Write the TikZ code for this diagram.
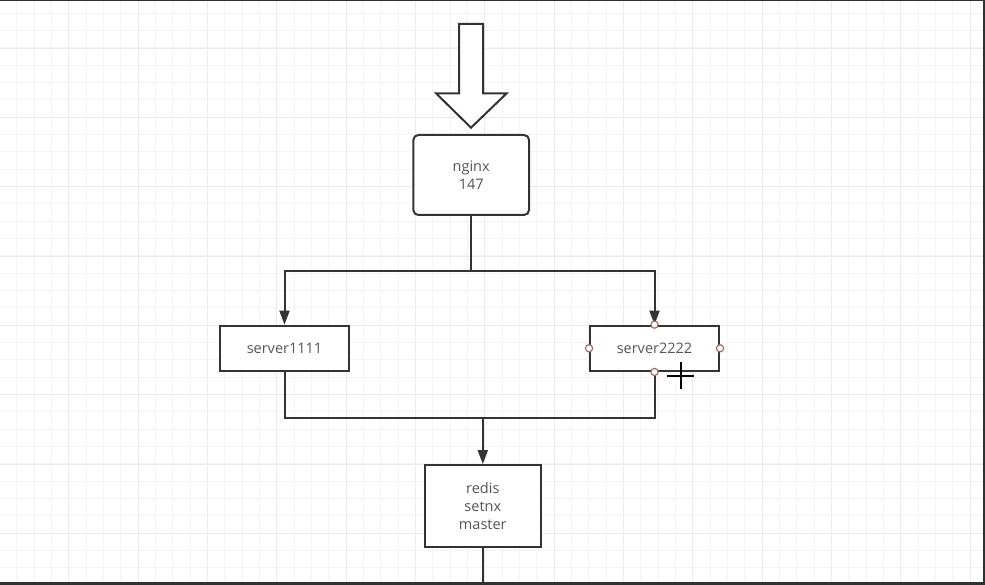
\documentclass[tikz,border=0pt]{standalone}
\usepackage{fontspec}
\setmainfont{Open Sans}
\usetikzlibrary{arrows.meta}
\definecolor{edge}{HTML}{333333}
\definecolor{txt}{HTML}{555555}
\definecolor{minorgrid}{HTML}{F4F4F4}
\definecolor{majorgrid}{HTML}{EAEAEA}
\definecolor{frame}{HTML}{2D3135}
\definecolor{handle}{HTML}{B0685E}
\begin{document}
\begin{tikzpicture}[x=1pt,y=-1pt,
  mg/.style={minorgrid, line width=1pt},
  Mg/.style={majorgrid, line width=1pt},
  box/.style={draw=edge, line width=2pt, fill=white, text=txt,
    font=\fontsize{14.5}{17.7}\selectfont, align=center, inner sep=0pt},
  conn/.style={draw=edge, line width=2pt},
  arr/.style={conn, -{Triangle[length=14pt,width=10pt]}},
  hnd/.style={draw=handle, fill=white, line width=1.2pt},
  cursor/.style={black, line width=2pt}
]
\useasboundingbox (0,0) rectangle (985,585);
\fill[white] (0,0) rectangle (985,585);
% grid
\foreach \k in {0,...,57} \draw[mg] ({-0.6+17.333*\k},0) -- ++(0,585);
\foreach \k in {0,...,34} \draw[mg] (0,{-4+17.333*\k}) -- ++(985,0);
\foreach \k in {0,...,14} \draw[Mg] ({-0.6+69.333*\k},0) -- ++(0,585);
\foreach \k in {1,...,9} \draw[Mg] (0,{-21+69.333*\k}) -- ++(985,0);

% big arrow
\draw[edge, line width=2pt, fill=white, line join=miter]
  (459,24) -- (483,24) -- (483,93.3) -- (506.7,93.3) -- (471,127.7)
  -- (436,93.3) -- (459,93.3) -- cycle;

% nodes
\node[box, rounded corners=5pt, minimum width=115.7pt, minimum height=80pt] (ng) at (471.2,175) {nginx\\147};
\node[box, minimum width=129pt, minimum height=45.3pt] (s1) at (284.5,348.3) {server1111};
\node[box, minimum width=129pt, minimum height=45.3pt] (s2) at (654.5,348.3) {server2222};
\node[box, minimum width=115.7pt, minimum height=81.7pt] (rd) at (482.8,505.9) {redis\\setnx\\master};

% connectors
\coordinate (split) at (471.2,270.7);
\coordinate (join) at (482.8,418.3);
\coordinate (out) at (482.8,590);
\draw[conn] (ng.south) -- (split);
\draw[arr] (split) -| (s1.north);
\draw[arr] (split) -| (s2.north);
\draw[conn] (s1.south) |- (join);
\draw[conn] (s2.south) |- (join);
\draw[arr] (join) -- (rd.north);
\draw[conn] (rd.south) -- (out);

% selection handles
\foreach \a in {north,south,east,west} \draw[hnd] (s2.\a) circle (3.6pt);

% mouse cursor
\draw[cursor] (667,375.7) -- (694,375.7);
\draw[cursor] (680.7,362) -- (680.7,389);

% window frame
\fill[frame] (0,0) rectangle (985,1.2);
\fill[frame] (982.5,0) rectangle (985,585);
\fill[frame] (0,581.5) rectangle (985,585);
\end{tikzpicture}
\end{document}
